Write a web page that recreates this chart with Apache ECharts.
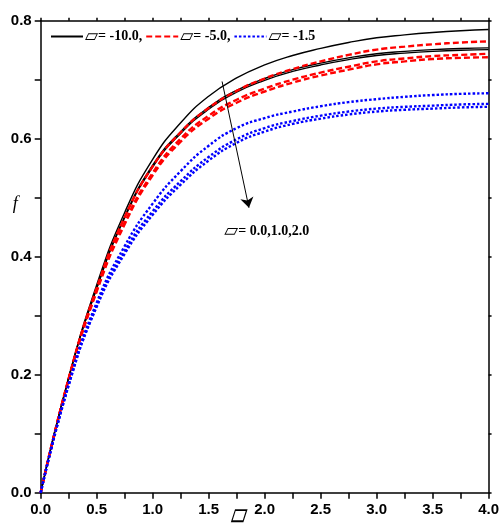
<!DOCTYPE html>
<html><head><meta charset="utf-8">
<script src="https://cdn.jsdelivr.net/npm/echarts@6/dist/echarts.min.js"></script>
<style>html,body{margin:0;padding:0;background:#fff}#c{width:502px;height:527px}</style>
</head><body><div id="c"></div>
<script>
// eta sample positions
const eta = [0, 0.25, 0.5, 0.75, 1.0, 1.25, 1.5, 1.75, 2.0, 2.25, 2.5, 2.75, 3.0, 3.25, 3.5, 3.75, 4.0];
// black solid family (label -10.0)
const black1 = [0, 0.195, 0.352, 0.475, 0.565, 0.627, 0.672, 0.703, 0.725, 0.741, 0.753, 0.763, 0.771, 0.776, 0.780, 0.783, 0.785];
const black2 = [0, 0.195, 0.347, 0.468, 0.555, 0.612, 0.653, 0.682, 0.702, 0.717, 0.728, 0.737, 0.744, 0.748, 0.751, 0.753, 0.754];
const black3 = [0, 0.195, 0.346, 0.466, 0.552, 0.609, 0.650, 0.679, 0.699, 0.714, 0.725, 0.734, 0.741, 0.745, 0.748, 0.750, 0.751];
// red dashed family (label -5.0)
const red1 = [0, 0.194, 0.347, 0.467, 0.553, 0.611, 0.652, 0.681, 0.702, 0.718, 0.731, 0.742, 0.751, 0.756, 0.760, 0.763, 0.765];
const red2 = [0, 0.193, 0.343, 0.458, 0.542, 0.600, 0.639, 0.666, 0.685, 0.700, 0.712, 0.722, 0.731, 0.736, 0.740, 0.742, 0.744];
const red3 = [0, 0.192, 0.341, 0.455, 0.538, 0.595, 0.634, 0.661, 0.680, 0.695, 0.707, 0.717, 0.726, 0.731, 0.735, 0.737, 0.738];
// blue dotted family (label -1.5)
const blue1 = [0, 0.185, 0.322, 0.418, 0.49, 0.545, 0.588, 0.618, 0.635, 0.646, 0.655, 0.662, 0.667, 0.671, 0.674, 0.676, 0.677];
const blue2 = [0, 0.183, 0.317, 0.41, 0.477, 0.528, 0.569, 0.599, 0.618, 0.630, 0.639, 0.646, 0.651, 0.654, 0.656, 0.658, 0.659];
const blue3 = [0, 0.182, 0.315, 0.405, 0.471, 0.522, 0.563, 0.593, 0.612, 0.625, 0.634, 0.641, 0.646, 0.649, 0.651, 0.653, 0.654];

const legendNames = ['▱= -10.0,', '▱= -5.0,', '▱= -1.5'];
const annotText = '▱= 0.0,1.0,2.0';
const xName = '▱';
const yName = 'f';

const pairs = a => eta.map((e, i) => [e, a[i]]);
const families = [
  {name: legendNames[0], color: '#000', type: 'solid', width: 1.4, data: [black1, black2, black3]},
  {name: legendNames[1], color: '#ff0000', type: [6, 3], width: 2.4, data: [red1, red2, red3]},
  {name: legendNames[2], color: '#0000ff', type: [2.5, 2], width: 2.4, data: [blue1, blue2, blue3]}
];
const series = [];
families.forEach(f => {
  f.data.forEach(arr => {
    series.push({
      name: f.name, type: 'line', data: pairs(arr), smooth: true, showSymbol: false, symbol: 'none',
      lineStyle: {color: f.color, type: f.type, width: f.width}, itemStyle: {color: f.color}, z: 3
    });
  });
});
// arrow annotation
series.push({
  type: 'line', data: [], silent: true,
  markLine: {
    silent: true, animation: false, symbol: ['none', 'arrow'], symbolSize: 10,
    label: {show: false},
    lineStyle: {color: '#000', width: 1, type: 'solid'},
    data: [[{coord: [1.62, 0.697]}, {coord: [1.86, 0.483]}]]
  }
});

const axisFont = {fontFamily: 'Liberation Sans', fontWeight: 'bold', fontSize: 15, color: '#000'};
const lineS = {color: '#000', width: 1.5};
const chart = echarts.init(document.getElementById('c'), null, {renderer: 'canvas'});
chart.setOption({
  animation: false,
  backgroundColor: '#fff',
  grid: {left: 40.7, right: 12.7, top: 20.7, bottom: 34.3, containLabel: false},
  legend: {
    data: legendNames, left: 45, top: 23, itemGap: 3, itemWidth: 32, itemHeight: 16,
    selectedMode: false,
    itemStyle: {opacity: 0},
    formatter: n => '{s|' + n.charAt(0) + '}{t|' + n.slice(1) + '}',
    textStyle: {
      color: '#000', padding: [0, 0, 0, -3],
      rich: {
        s: {fontFamily: 'DejaVu Sans', fontSize: 17, color: '#000'},
        t: {fontFamily: 'Liberation Serif', fontWeight: 'bold', fontSize: 14, color: '#000'}
      }
    }
  },
  xAxis: [{
    type: 'value', min: 0, max: 4, interval: 0.5,
    axisLine: {show: true, lineStyle: lineS, onZero: false},
    axisTick: {show: true, inside: false, length: 6, lineStyle: lineS},
    minorTick: {show: true, splitNumber: 2, length: 6, lineStyle: lineS},
    splitLine: {show: false},
    axisLabel: Object.assign({margin: 10, formatter: v => v.toFixed(1)}, axisFont)
  }, {
    type: 'value', min: 0, max: 4, interval: 0.5, position: 'top',
    axisLine: {show: true, lineStyle: lineS, onZero: false},
    axisTick: {show: true, inside: false, length: 3, lineStyle: lineS},
    minorTick: {show: true, splitNumber: 2, length: 3, lineStyle: lineS},
    splitLine: {show: false}, axisLabel: {show: false}
  }],
  yAxis: [{
    type: 'value', min: 0, max: 0.8, interval: 0.2,
    axisLine: {show: true, lineStyle: lineS, onZero: false},
    axisTick: {show: true, inside: false, length: 6, lineStyle: lineS},
    minorTick: {show: true, splitNumber: 2, length: 6, lineStyle: lineS},
    splitLine: {show: false},
    axisLabel: Object.assign({margin: 9, formatter: v => v.toFixed(1)}, axisFont)
  }, {
    type: 'value', min: 0, max: 0.8, interval: 0.2, position: 'right',
    axisLine: {show: true, lineStyle: lineS, onZero: false},
    axisTick: {show: true, inside: false, length: 3, lineStyle: lineS},
    minorTick: {show: true, splitNumber: 2, length: 3, lineStyle: lineS},
    splitLine: {show: false}, axisLabel: {show: false}
  }],
  series: series
});
const pA = chart.convertToPixel({gridIndex: 0}, [1.64, 0.45]);
const pX = chart.convertToPixel({gridIndex: 0}, [1.75, 0]);
const pY = chart.convertToPixel({gridIndex: 0}, [0, 0.49]);
chart.setOption({
  graphic: [
    {type: 'text', x: pA[0], y: pA[1] - 5, style: {
      text: '{s|' + annotText.charAt(0) + '}{t|' + annotText.slice(1) + '}',
      rich: {
        s: {font: '18px "DejaVu Sans"', fill: '#000'},
        t: {font: 'bold 14px "Liberation Serif"', fill: '#000'}
      }, fill: '#000'}},
    {type: 'text', x: pX[0] - 6, y: pX[1] + 6, scaleY: 1.6, style: {text: xName, font: '22px "DejaVu Sans"', fill: '#000'}},
    {type: 'text', x: pY[0] - 28, y: pY[1] - 8, style: {text: yName, font: 'italic 18px "Liberation Serif"', fill: '#000'}}
  ]
});
</script></body></html>
